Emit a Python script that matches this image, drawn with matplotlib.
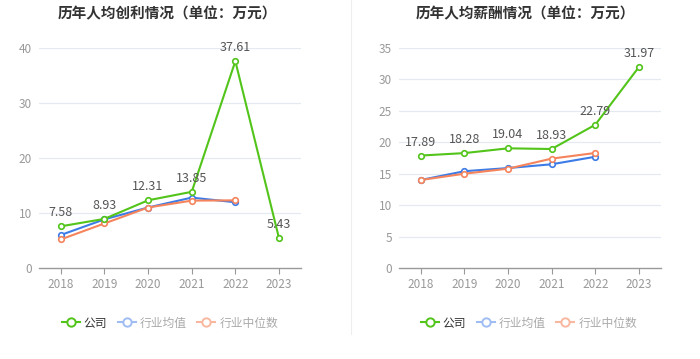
import matplotlib
matplotlib.use("Agg")
import matplotlib.pyplot as plt
from matplotlib.lines import Line2D

plt.rcParams['font.family'] = ['Noto Sans CJK SC', 'DejaVu Sans']

years = ['2018', '2019', '2020', '2021', '2022', '2023']

profit_company = [7.58, 8.93, 12.31, 13.85, 37.61, 5.43]
profit_avg = [6.0, 8.85, 11.0, 12.8, 11.95]
profit_median = [5.2, 8.1, 11.0, 12.25, 12.3]

salary_company = [17.89, 18.28, 19.04, 18.93, 22.79, 31.97]
salary_avg = [14.0, 15.4, 15.9, 16.5, 17.7]
salary_median = [14.0, 15.0, 15.8, 17.4, 18.3]

titles = ['历年人均创利情况（单位：万元）', '历年人均薪酬情况（单位：万元）']
legend_labels = ['公司', '行业均值', '行业中位数']
yticks_list = [[0, 10, 20, 30, 40], [0, 5, 10, 15, 20, 25, 30, 35]]

GREEN = '#52c41a'
BLUE = '#3d7be6'
ORANGE = '#f5845c'

fig = plt.figure(figsize=(7, 3.59), dpi=100)
fig.patch.set_facecolor('white')

ax_rects = [[39/700, 1-268/359, 261.8/700, 220/359],
            [399/700, 1-268/359, 261.7/700, 220/359]]
datasets = [(profit_company, profit_avg, profit_median),
            (salary_company, salary_avg, salary_median)]
title_x = [167/700, 525/700]
legend_x = [170/700, 529/700]

for i in range(2):
    ax = fig.add_axes(ax_rects[i])
    comp, avg, med = datasets[i]
    yt = yticks_list[i]
    x = list(range(len(years)))
    ax.set_xlim(-0.5, len(years) - 0.5)
    ax.set_ylim(0, yt[-1])
    for t in yt[1:]:
        ax.axhline(t, color='#e6e9f0', lw=0.9, zorder=0)
    kw = dict(lw=1.5, marker='o', ms=4, mfc='white', mew=1.2, zorder=3)
    ax.plot(x[:len(avg)], avg, color=BLUE, **kw)
    ax.plot(x[:len(med)], med, color=ORANGE, **kw)
    ax.plot(x, comp, color=GREEN, **kw)
    for xi, v in zip(x, comp):
        ax.annotate(f'{v:.2f}', (xi, v), xytext=(0, 5), textcoords='offset points',
                    ha='center', va='bottom', fontsize=9, color='#555555', zorder=5)
    ax.set_xticks(x)
    ax.set_xticklabels(years)
    ax.set_yticks(yt)
    ax.set_yticklabels([str(t) for t in yt])
    ax.tick_params(axis='x', length=4, color='#999999', labelsize=8.5, labelcolor='#999999', pad=3)
    ax.tick_params(axis='y', length=0, labelsize=8.5, labelcolor='#999999', pad=5)
    for s in ['top', 'right', 'left']:
        ax.spines[s].set_visible(False)
    ax.spines['bottom'].set_color('#999999')
    ax.spines['bottom'].set_linewidth(1.0)
    ax.set_facecolor('none')

    fig.text(title_x[i], 1-13/359, titles[i], ha='center', va='center',
             fontsize=10.5, fontweight='bold', color='#333333')

    handles = [Line2D([], [], color=GREEN, lw=1.5, marker='o', ms=6, mfc='white', mew=1.4),
               Line2D([], [], color='#9fbdf2', lw=1.5, marker='o', ms=6, mfc='white', mew=1.4),
               Line2D([], [], color='#f8b8a0', lw=1.5, marker='o', ms=6, mfc='white', mew=1.4)]
    leg = fig.legend(handles, legend_labels, loc='center', bbox_to_anchor=(legend_x[i], 1-323/359),
                     ncol=3, frameon=False, fontsize=8.5, handlelength=1.5, handletextpad=0.35,
                     columnspacing=0.9)
    cols = ['#333333', '#aaaaaa', '#aaaaaa']
    for t, c in zip(leg.get_texts(), cols):
        t.set_color(c)

fig.add_artist(Line2D([351/700, 351/700], [1-334/359, 1.0], color='#eeeeee', lw=0.8))

fig.savefig('out.png', dpi=100, facecolor='white')
